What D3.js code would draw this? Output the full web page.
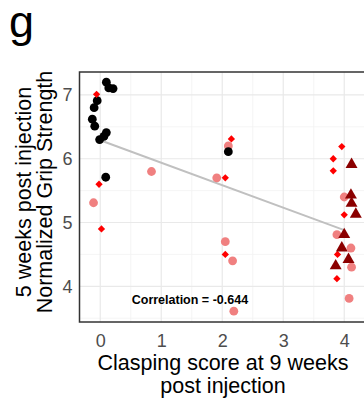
<!DOCTYPE html>
<html>
<head>
<meta charset="utf-8">
<script src="https://cdn.jsdelivr.net/npm/d3@7"></script>
<style>
  html, body { margin: 0; padding: 0; background: #fff; }
  svg { display: block; font-family: "Liberation Sans", Arial, Helvetica, sans-serif; }
</style>
</head>
<body>
<svg id="chart" width="364" height="400"></svg>
<script>
// Clasping score (jittered) vs. normalized grip strength, by group
const blackX = [0.10, 0.14, 0.21, -0.05, -0.10, -0.13, -0.09, 0.10, 0.06, -0.01, 0.09, 2.10];
const blackY = [7.20, 7.11, 7.10, 6.91, 6.80, 6.62, 6.51, 6.41, 6.35, 6.30, 5.71, 6.11];

const pinkX = [-0.11, 0.84, 2.10, 1.91, 2.05, 2.17, 2.19, 4.00, 3.88, 4.11, 4.12, 4.08];
const pinkY = [5.31, 5.80, 6.20, 5.70, 4.70, 4.40, 3.61, 5.40, 4.81, 4.60, 4.30, 3.81];

const redX = [-0.06, -0.02, 0.02, 2.15, 2.05, 2.05, 3.96, 3.82, 3.82, 4.00, 3.89, 3.88];
const redY = [7.01, 5.60, 4.90, 6.31, 5.70, 4.50, 6.19, 6.00, 5.81, 5.12, 4.50, 4.12];

const darkX = [4.12, 4.11, 4.12, 4.19, 4.00, 3.96, 4.07, 3.86];
const darkY = [5.91, 5.43, 5.30, 5.13, 4.81, 4.60, 4.42, 4.32];

// Linear fit across clasping scores 0..4
const fitX = [0, 4];
const fitY = [6.29, 4.88];

const xTicks = [0, 1, 2, 3, 4];
const yTicks = [4, 5, 6, 7];
const xMinor = [0.5, 1.5, 2.5, 3.5];
const yMinor = [3.5, 4.5, 5.5, 6.5];

const corrLabel = "Correlation = -0.644";
const corrPos = [1.47, 3.78];

const svg = d3.select("#chart");
const pLeft = 79.5, pRight = 366.5, pTop = 72, pBottom = 322;

const x = d3.scaleLinear().domain([-0.34, 4.365]).range([pLeft, pRight]);
const y = d3.scaleLinear().domain([3.44, 7.36]).range([pBottom, pTop]);

// panel label
svg.append("text").attr("x", 9).attr("y", 37)
  .attr("font-size", 45).attr("fill", "#000").text("g");

const panel = svg.append("g");
panel.append("rect").attr("x", pLeft).attr("y", pTop)
  .attr("width", pRight - pLeft).attr("height", pBottom - pTop).attr("fill", "#fff");

// grid
panel.selectAll(".vminor").data(xMinor).join("line")
  .attr("x1", d => x(d)).attr("x2", d => x(d)).attr("y1", pTop).attr("y2", pBottom)
  .attr("stroke", "#f2f2f2").attr("stroke-width", 0.8);
panel.selectAll(".hminor").data(yMinor).join("line")
  .attr("y1", d => y(d)).attr("y2", d => y(d)).attr("x1", pLeft).attr("x2", pRight)
  .attr("stroke", "#f2f2f2").attr("stroke-width", 0.8);
panel.selectAll(".vmajor").data(xTicks).join("line")
  .attr("x1", d => x(d)).attr("x2", d => x(d)).attr("y1", pTop).attr("y2", pBottom)
  .attr("stroke", "#e9e9e9").attr("stroke-width", 1.2);
panel.selectAll(".hmajor").data(yTicks).join("line")
  .attr("y1", d => y(d)).attr("y2", d => y(d)).attr("x1", pLeft).attr("x2", pRight)
  .attr("stroke", "#e9e9e9").attr("stroke-width", 1.2);

// fit line
panel.append("line")
  .attr("x1", x(fitX[0])).attr("y1", y(fitY[0]))
  .attr("x2", x(fitX[1])).attr("y2", y(fitY[1]))
  .attr("stroke", "#c0c0c0").attr("stroke-width", 2);

const zip = (xs, ys) => xs.map((v, i) => [v, ys[i]]);

// points
panel.selectAll(".pink").data(zip(pinkX, pinkY)).join("circle")
  .attr("cx", d => x(d[0])).attr("cy", d => y(d[1])).attr("r", 4.4)
  .attr("fill", "#f08080");
panel.selectAll(".black").data(zip(blackX, blackY)).join("circle")
  .attr("cx", d => x(d[0])).attr("cy", d => y(d[1])).attr("r", 4.4)
  .attr("fill", "#000");
const diamond = d3.symbol().type(d3.symbolDiamond2).size(34);
panel.selectAll(".red").data(zip(redX, redY)).join("path")
  .attr("d", diamond)
  .attr("transform", d => `translate(${x(d[0])},${y(d[1])})`)
  .attr("fill", "#ff0000");
const tri = d3.symbol().type(d3.symbolTriangle).size(62);
panel.selectAll(".dark").data(zip(darkX, darkY)).join("path")
  .attr("d", tri)
  .attr("transform", d => `translate(${x(d[0])},${y(d[1])})`)
  .attr("fill", "#8b0000");

// correlation annotation
panel.append("text")
  .attr("x", x(corrPos[0])).attr("y", y(corrPos[1]))
  .attr("text-anchor", "middle").attr("dominant-baseline", "central")
  .attr("font-size", 12.5).attr("font-weight", "bold").attr("fill", "#000")
  .text(corrLabel);

// border
panel.append("rect").attr("x", pLeft).attr("y", pTop)
  .attr("width", pRight - pLeft).attr("height", pBottom - pTop)
  .attr("fill", "none").attr("stroke", "#333").attr("stroke-width", 1.5);

// axes
const fmt = d3.format("d");
const xAxis = svg.append("g").attr("transform", `translate(0,${pBottom})`)
  .call(d3.axisBottom(x).tickValues(xTicks).tickFormat(fmt).tickSize(0).tickPadding(12));
const yAxis = svg.append("g").attr("transform", `translate(${pLeft},0)`)
  .call(d3.axisLeft(y).tickValues(yTicks).tickFormat(fmt).tickSize(0).tickPadding(7));
[xAxis, yAxis].forEach(a => {
  a.select(".domain").remove();
  a.selectAll("text").attr("font-size", 18).attr("fill", "#4d4d4d")
    .attr("font-family", "\"Liberation Sans\", Arial, sans-serif");
});

// axis titles
const cx = (pLeft + pRight) / 2;
svg.append("text").attr("x", cx).attr("y", 370).attr("text-anchor", "middle")
  .attr("font-size", 21.5).attr("fill", "#000").text("Clasping score at 9 weeks");
svg.append("text").attr("x", cx).attr("y", 393).attr("text-anchor", "middle")
  .attr("font-size", 21.5).attr("fill", "#000").text("post injection");

const yTitle = svg.append("g").attr("transform", "translate(0,192) rotate(-90)");
yTitle.append("text").attr("x", 0).attr("y", 31).attr("text-anchor", "middle")
  .attr("font-size", 21.5).attr("fill", "#000").text("5 weeks post injection");
yTitle.append("text").attr("x", 0).attr("y", 52).attr("text-anchor", "middle")
  .attr("font-size", 21.5).attr("fill", "#000").text("Normalized Grip Strength");
</script>
</body>
</html>
